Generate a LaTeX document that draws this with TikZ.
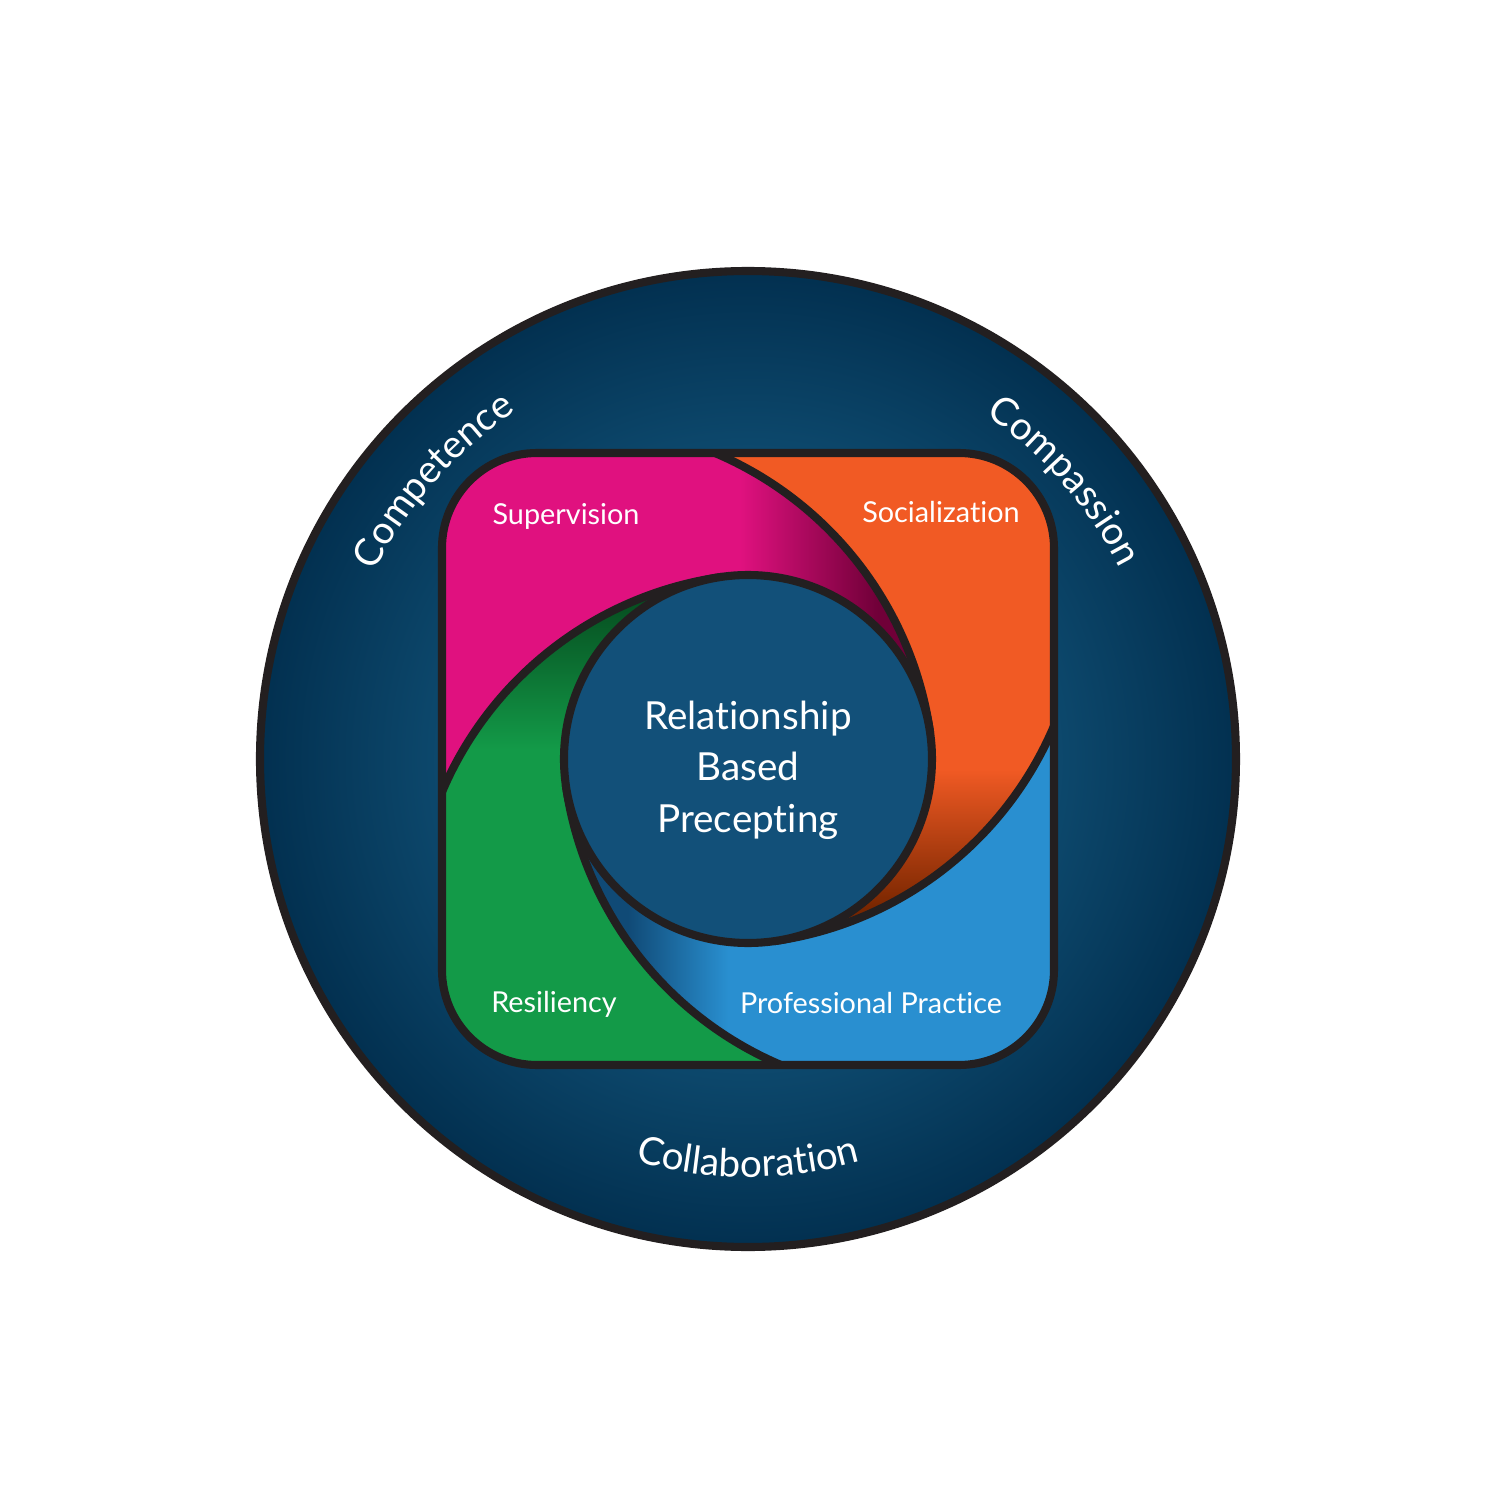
\documentclass[tikz,border=0pt]{standalone}
\usepackage{fontspec}
\setmainfont{Lato}[Ligatures={NoCommon,NoContextual}]
\usepackage{xcolor}
\usepackage{tikz}
\usetikzlibrary{decorations.text}

\definecolor{rimline}{RGB}{35,31,32}
\definecolor{ringin}{RGB}{15,77,114}
\definecolor{ringout}{RGB}{2,48,80}
\definecolor{hubblue}{RGB}{18,80,121}
\definecolor{supmag}{RGB}{224,17,127}
\definecolor{supdeep}{RGB}{112,0,56}
\definecolor{socorange}{RGB}{241,90,36}
\definecolor{socdeep}{RGB}{120,38,0}
\definecolor{problue}{RGB}{41,143,208}
\definecolor{prodeep}{RGB}{16,74,118}
\definecolor{resgreen}{RGB}{19,154,72}
\definecolor{resdeep}{RGB}{6,78,32}

\pgfdeclareradialshading{ringglow}{\pgfpointorigin}{color(0bp)=(ringin); color(14bp)=(ringin); color(25bp)=(ringout); color(50bp)=(ringout)}

% one blade of the swirl, drawn for the top-left corner
\newcommand{\bladepath}{(-0.33,3.06) arc[start angle=67.02, end angle=8, radius=3.5882]
	arc[start angle=8, end angle=98, radius=1.84]
	arc[start angle=98, end angle=157.02, radius=3.5882]
	-- (-3.06,2.11) arc[start angle=180, end angle=90, radius=0.95] -- cycle}
\newcommand{\bladeedge}{(-0.33,3.06) arc[start angle=67.02, end angle=8, radius=3.5882]}
\newcommand{\rimfont}{\fontsize{11}{13}\selectfont\color{white}}

\begin{document}
\begin{tikzpicture}[
	outline/.style={draw=rimline, line width=2.3pt},
	bladetext/.style={text=white, font=\fontsize{8.2}{10}\selectfont, anchor=base, inner sep=0pt},
	hubtext/.style={text=white, font=\fontsize{11}{14.6}\selectfont, align=center, inner sep=0pt},
	rimtext/.style={decorate, decoration={text along path, text align=center, text={|\rimfont|#1}}}
	]
	\fill[white] (-7.48,-7.41) rectangle (7.52,7.59);
	\useasboundingbox (-7.48,-7.41) rectangle (7.52,7.59);

	% outer ring
	\shade[shading=ringglow] (0,0) circle (4.88);
	\draw[outline] (0,0) circle (4.88);

	% blades
	\begin{scope}
		\clip \bladepath;
		\fill[supmag] (-4,-4) rectangle (-0.08,4);
		\shade[left color=supmag, right color=supdeep] (-0.08,-4) rectangle (1.3,4);
		\fill[supdeep] (1.3,-4) rectangle (4,4);
	\end{scope}
	\begin{scope}
		\clip[rotate=-90] \bladepath;
		\fill[socorange] (-4,-0.1) rectangle (4,4);
		\shade[top color=socorange, bottom color=socdeep] (-4,-1.5) rectangle (4,-0.1);
		\fill[socdeep] (-4,-4) rectangle (4,-1.5);
	\end{scope}
	\begin{scope}
		\clip[rotate=180] \bladepath;
		\fill[problue] (-0.2,-4) rectangle (4,4);
		\shade[left color=prodeep, right color=problue] (-1.2,-4) rectangle (-0.2,4);
		\fill[prodeep] (-4,-4) rectangle (-1.2,4);
	\end{scope}
	\begin{scope}
		\clip[rotate=90] \bladepath;
		\fill[resgreen] (-4,-4) rectangle (4,0.1);
		\shade[bottom color=resgreen, top color=resdeep] (-4,0.1) rectangle (4,1.6);
		\fill[resdeep] (-4,1.6) rectangle (4,4);
	\end{scope}

	% blade edges, hub and frame
	\draw[outline] \bladeedge;
	\draw[outline, rotate=-90] \bladeedge;
	\draw[outline, rotate=180] \bladeedge;
	\draw[outline, rotate=90] \bladeedge;
	\filldraw[outline, fill=hubblue] (0,0) circle (1.84);
	\draw[outline, rounded corners=0.95cm] (-3.06,-3.06) rectangle (3.06,3.06);

	\node[bladetext] (supervision) at (-1.82,2.35) {Supervision};
	\node[bladetext] (socialization) at (1.93,2.37) {Socialization};
	\node[bladetext] (resiliency) at (-1.94,-2.53) {Resiliency};
	\node[bladetext] (practice) at (1.23,-2.54) {Professional Practice};
	\node[hubtext] (hub) at (0,-0.11) {Relationship\\Based\\Precepting};

	% words round the ring
	\path[rimtext=Competence] (160:4.18) arc[start angle=160, end angle=117, radius=4.18];
	\path[rimtext=Compassion] (63:4.18) arc[start angle=63, end angle=19.5, radius=4.18];
	\path[rimtext=Collaboration] (245:4.18) arc[start angle=245, end angle=295, radius=4.18];
\end{tikzpicture}
\end{document}
